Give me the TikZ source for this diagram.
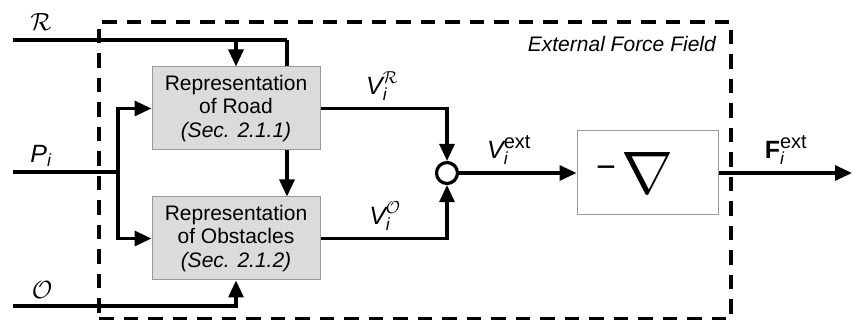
\documentclass[tikz,border=0pt]{standalone}
\usepackage{amsmath}
\usepackage{fontspec}
\setmainfont{Liberation Sans}
\usetikzlibrary{arrows.meta,backgrounds}
\tikzset{
  wire/.style={line width=3.2pt},
  arr/.style={wire,-{Triangle[length=17pt,width=15pt]}},
  blockbox/.style={draw=black!40,line width=1pt,fill=black!14,minimum width=168pt,minimum height=83pt,
    align=center,font=\fontsize{21}{23.5}\selectfont,inner sep=0pt},
  gradbox/.style={draw=black!40,line width=1pt,fill=white,minimum width=141pt,minimum height=84pt,inner sep=0pt},
  sumnode/.style={circle,draw,line width=3.2pt,fill=white,minimum size=21pt,inner sep=0pt},
  frame/.style={draw,line width=3.2pt,dash pattern=on 14.5pt off 10pt,minimum width=632pt,minimum height=297pt,inner sep=0pt},
  lab/.style={font=\fontsize{25}{25}\selectfont,inner sep=0pt},
  calab/.style={font=\fontsize{23}{23}\selectfont,inner sep=0pt},
}
\newcommand{\supsz}[1]{\text{\fontsize{20}{20}\selectfont #1}}
\begin{document}
\begin{tikzpicture}[x=1pt,y=-1pt]
\useasboundingbox (0,0) rectangle (852,320);
\node[frame] (frm) at (415,170.5) {};
\node[blockbox] (road) at (236,108.5) {Representation\\of Road\\\textit{(Sec. 2.1.1)}};
\node[blockbox] (obst) at (236,238.5) {Representation\\of Obstacles\\\textit{(Sec. 2.1.2)}};
\node[sumnode] (sum) at (447,173) {};
\node[gradbox] (grad) at (647.5,173) {};
\node[inner sep=0pt,font=\fontsize{34}{34}\selectfont] (gmin) at (606,172) {−};
\node[inner sep=0pt] (gnab) at (647,173) {\resizebox{52pt}{41pt}{$\nabla$}};
% inputs
\coordinate (rin) at (13,40);
\coordinate (rc) at (287,40);
\coordinate (pin) at (13,172);
\coordinate (pj) at (118,172);
\coordinate (oin) at (13,306);
\coordinate (fout) at (852,173);
\begin{scope}[on background layer]
  \draw[arr] (rc) -- (rc |- obst.north);
\end{scope}
\draw[wire] (rin) -- (rc);
\draw[arr] (rin -| road.north) -- (road.north);
\draw[wire] (pin) -- (pj);
\draw[arr] (pj) |- (road.west);
\draw[arr] (pj) |- (obst.west);
\draw[arr] (oin) -| (obst.south);
\draw[arr] (road.east) -| (sum.north);
\draw[arr] (obst.east) -| (sum.south);
\draw[arr] (sum.east) -- (grad.west);
\draw[arr] (grad.east) -- (fout);
% labels
\node[calab] (lR) at (41,22) {$\mathcal{R}$};
\node[lab] (lP) at (41,156) {$\textit{P}_{\textit{i}}$};
\node[calab] (lO) at (42,290) {$\mathcal{O}$};
\node[lab] (lVR) at (382,86) {$\textit{V}_{\textit{i}}^{\mathcal{R}}$};
\node[lab] (lVO) at (385,216) {$\textit{V}_{\textit{i}}^{\mathcal{O}}$};
\node[lab] (lVe) at (509,150) {$\textit{V}_{\textit{i}}^{\supsz{ext}}$};
\node[lab] (lF) at (786,150) {$\textbf{F}_{\textit{i}}^{\supsz{ext}}$};
\node[font=\fontsize{21}{21}\selectfont\itshape,anchor=east,inner sep=0pt] (title) at (716,44) {External Force Field};
\end{tikzpicture}
\end{document}
